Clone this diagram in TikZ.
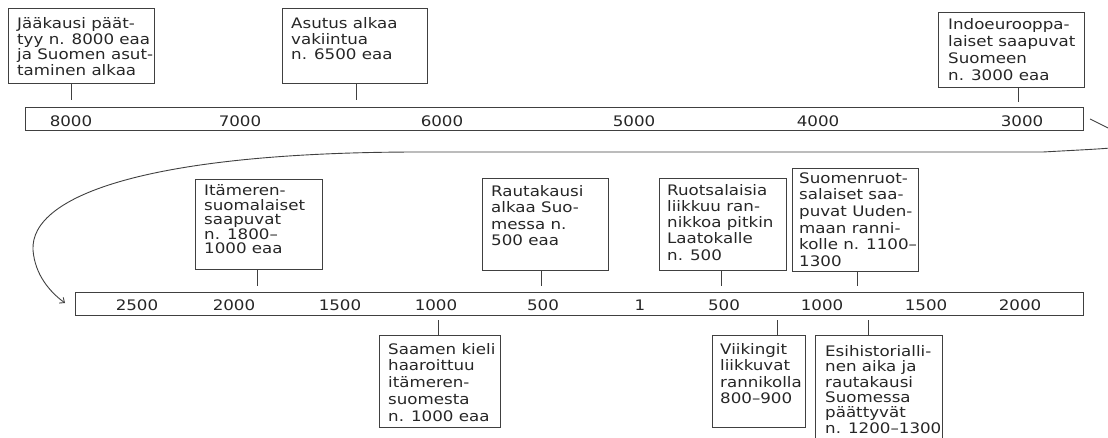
\documentclass[tikz,border=0pt]{standalone}
\usepackage{fontspec}
\usetikzlibrary{arrows.meta}
\newfontfamily\boxfont[FakeStretch=1.15]{DejaVu Sans}
\newcommand\firstln{\rule{0pt}{12pt}}
\tikzset{
  ln/.style={draw=black!75, line width=0.9pt},
  box/.style={ln, rectangle, inner sep=0pt, anchor=north west},
  txt/.style={align=left, inner sep=0pt, anchor=north west, text=black!85,
              font=\boxfont\fontsize{14.5}{#1}\selectfont},
  txt/.default=15.5,
  lab/.style={inner sep=0pt, anchor=base, text=black!85, font=\boxfont\fontsize{14.5}{15}\selectfont}
}
\begin{document}
\begin{tikzpicture}[x=1pt,y=-1pt]
\useasboundingbox (0,0) rectangle (1108,438);
\clip (0,0) rectangle (1108,438);

% timeline bars
\node[box, minimum width=1058pt, minimum height=23pt] (topbar) at (25,107) {};
\node[box, minimum width=1008pt, minimum height=23pt] (botbar) at (75,292) {};

% top bar labels
\node[lab] (l8000) at (71,126.5) {8000};
\node[lab] (l7000) at (240,126.5) {7000};
\node[lab] (l6000) at (442,126.5) {6000};
\node[lab] (l5000) at (634,126.5) {5000};
\node[lab] (l4000) at (818,126.5) {4000};
\node[lab] (l3000) at (1022,126.5) {3000};

% bottom bar labels
\node[lab] (m2500) at (137,310) {2500};
\node[lab] (m2000) at (234,310) {2000};
\node[lab] (m1500) at (340,310) {1500};
\node[lab] (m1000) at (436,310) {1000};
\node[lab] (m500) at (543,310) {500};
\node[lab] (m1) at (640,310) {1};
\node[lab] (p500) at (724,310) {500};
\node[lab] (p1000) at (822,310) {1000};
\node[lab] (p1500) at (926,310) {1500};
\node[lab] (p2000) at (1020,310) {2000};

% top row boxes
\node[box, minimum width=146pt, minimum height=75pt] (b1) at (8,8) {};
\node[txt=15.5] (t1) at (17,16.5) {\firstln Jääkausi päät-\\tyy n. 8000 eaa\\ja Suomen asut-\\taminen alkaa};
\coordinate (k1) at (71,100);
\draw[ln] (b1.south -| k1) -- (k1);

\node[box, minimum width=145pt, minimum height=75pt] (b2) at (282,8) {};
\node[txt=15.5] (t2) at (291,16.5) {\firstln Asutus alkaa\\vakiintua\\n. 6500 eaa};
\coordinate (k2) at (356,100);
\draw[ln] (b2.south -| k2) -- (k2);

\node[box, minimum width=146pt, minimum height=75pt] (b3) at (938,12) {};
\node[txt=16.8] (t3) at (948,17.5) {\firstln Indoeurooppa-\\laiset saapuvat\\Suomeen\\n. 3000 eaa};
\coordinate (k3) at (1018,102);
\draw[ln] (b3.south -| k3) -- (k3);

% middle row boxes (above bottom bar)
\node[box, minimum width=127pt, minimum height=90pt] (b4) at (195,179) {};
\node[txt=14.5] (t4) at (204,183.5) {\firstln Itämeren-\\suomalaiset\\saapuvat\\n. 1800–\\1000 eaa};
\coordinate (k4) at (257,286);
\draw[ln] (b4.south -| k4) -- (k4);

\node[box, minimum width=126pt, minimum height=92pt] (b5) at (482,178) {};
\node[txt=16.1] (t5) at (491,184.7) {\firstln Rautakausi\\alkaa Suo-\\messa n.\\500 eaa};
\coordinate (k5) at (541,286);
\draw[ln] (b5.south -| k5) -- (k5);

\node[box, minimum width=127pt, minimum height=92pt] (b6) at (659,178) {};
\node[txt=16.25] (t6) at (667,183) {\firstln Ruotsalaisia\\liikkuu ran-\\nikkoa pitkin\\Laatokalle\\n. 500};
\coordinate (k6) at (721,286);
\draw[ln] (b6.south -| k6) -- (k6);

\node[box, minimum width=126pt, minimum height=103pt] (b7) at (792,168) {};
\node[txt=16.7] (t7) at (799,171) {\firstln Suomenruot-\\salaiset saa-\\puvat Uuden-\\maan ranni-\\kolle n. 1100–\\1300};
\coordinate (k7) at (857,286);
\draw[ln] (b7.south -| k7) -- (k7);

% bottom row boxes
\coordinate (k8) at (438,320);
\node[box, minimum width=121pt, minimum height=92pt] (b8) at (379,335) {};
\node[txt=16.7] (t8) at (388,342) {\firstln Saamen kieli\\haaroittuu\\itämeren-\\suomesta\\n. 1000 eaa};
\draw[ln] (k8) -- (b8.north -| k8);

\coordinate (k9) at (777,320);
\node[box, minimum width=93pt, minimum height=92pt] (b9) at (712,335) {};
\node[txt=16.5] (t9) at (720,342) {\firstln Viikingit\\liikkuvat\\rannikolla\\800–900};
\draw[ln] (k9) -- (b9.north -| k9);

\coordinate (k10) at (868,320);
\node[box, minimum width=127pt, minimum height=120pt] (b10) at (815,335) {};
\node[txt=15.4] (t10) at (825,344) {\firstln Esihistorialli-\\nen aika ja\\rautakausi\\Suomessa\\päättyvät\\n. 1200–1300};
\draw[ln] (k10) -- (b10.north -| k10);

% connecting curve from top bar to bottom bar
\coordinate (cs) at (1090,119);
\coordinate (ce) at (65,303);
\draw[ln, -{Straight Barb[length=4pt,width=7pt]}]
  (cs) .. controls (1150,149) and (1150,146) .. (1043,152)
  -- (420,152)
  .. controls (150,152) and (30,195) .. (33,250)
  .. controls (35,275) and (50,292) .. (ce);
\end{tikzpicture}
\end{document}
